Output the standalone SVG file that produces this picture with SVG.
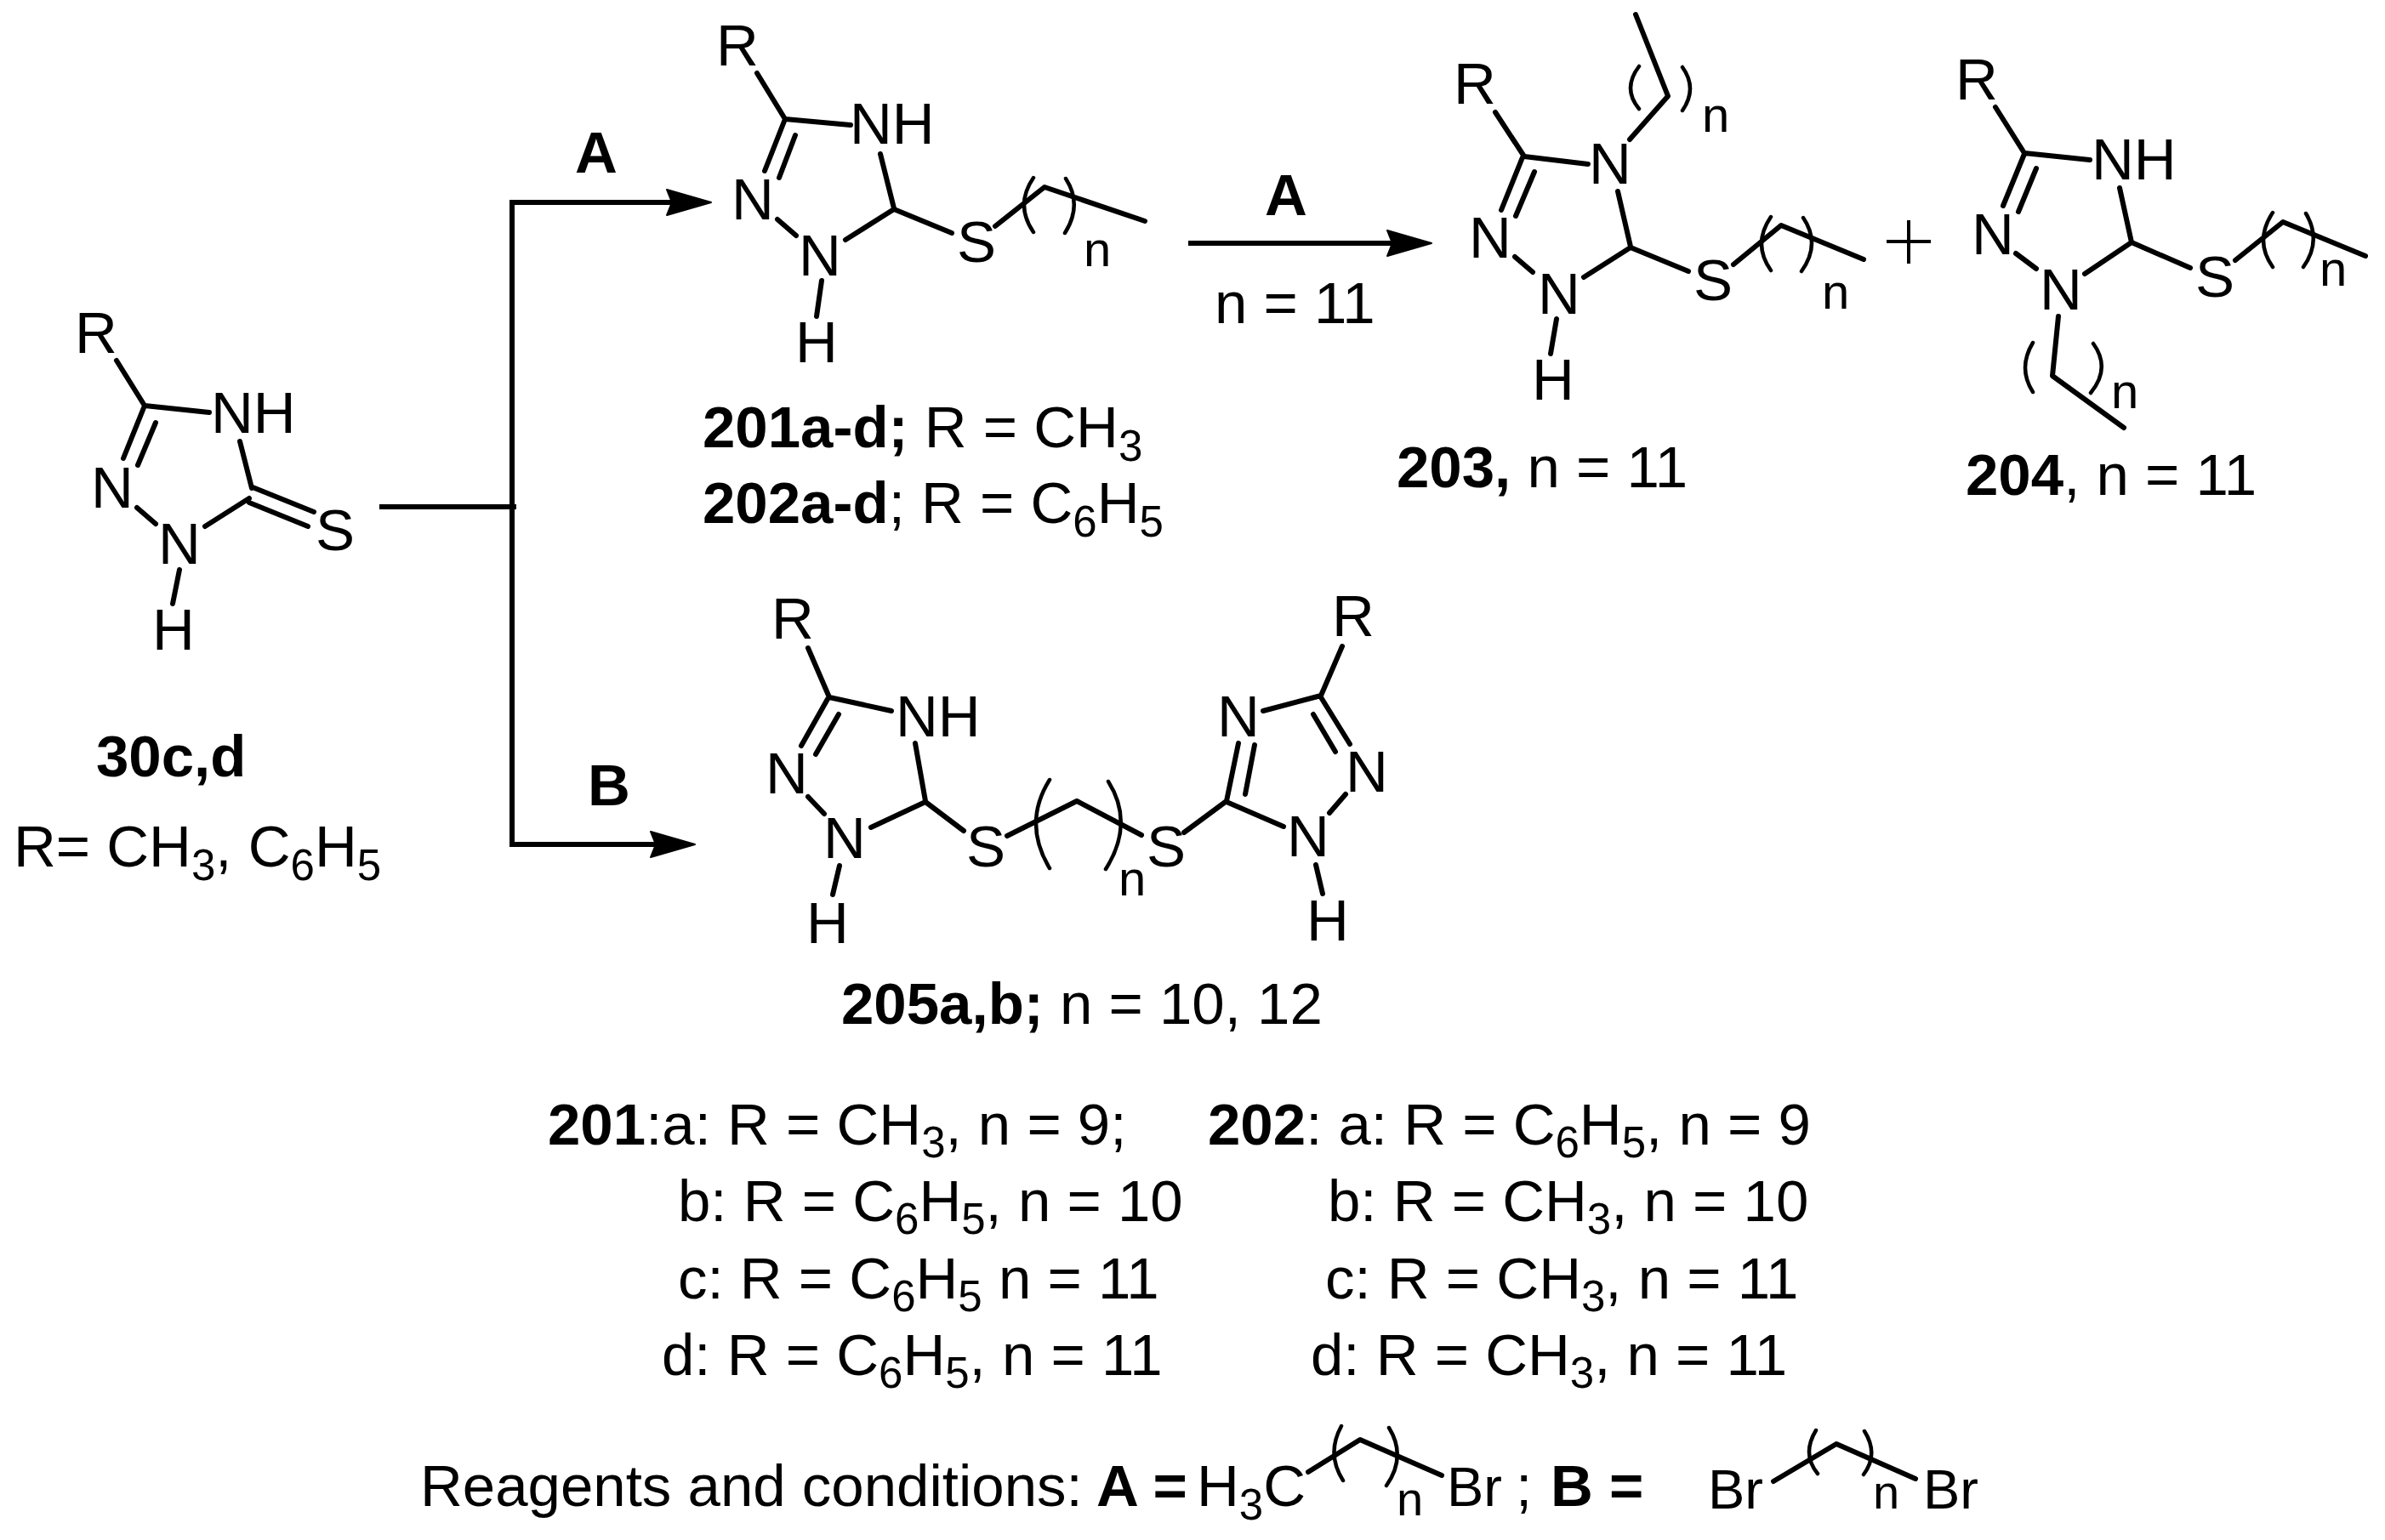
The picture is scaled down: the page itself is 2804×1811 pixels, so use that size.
<svg xmlns="http://www.w3.org/2000/svg" width="2804" height="1811" viewBox="0 0 2804 1811">
<style>
text{font-family:"Liberation Sans",Arial,sans-serif;font-size:69px;fill:#000}
.b{font-weight:700}
.s{font-size:51px}
.n{font-size:58px}
.m{font-size:56px}
.r{font-size:65px}
.bond{fill:none;stroke:#000;stroke-width:6;stroke-linecap:round;stroke-linejoin:round}
.par{fill:none;stroke:#000;stroke-width:4.5;stroke-linecap:round}
.conn{fill:none;stroke:#000;stroke-width:6}
</style>
<defs>
<marker id="head" markerUnits="userSpaceOnUse" viewBox="-2 -2 56 34" markerWidth="56" markerHeight="34" refX="6" refY="15" orient="auto">
<polygon points="0,0 52,15 0,30 6,15" fill="#000" stroke="#000" stroke-width="2" stroke-linejoin="round"/>
</marker>
</defs>
<rect width="2804" height="1811" fill="#fff"/>

<g id="connectors">
<path class="conn" d="M446 596H607"/>
<path class="conn" d="M602 235V993H771" marker-end="url(#head)"/>
<path class="conn" d="M599 238H790" marker-end="url(#head)"/>
<path class="conn" d="M1397 286H1637" marker-end="url(#head)"/>
</g>

<g id="arrow-labels">
<text class="b" x="676" y="203">A</text>
<text class="b" x="691" y="947">B</text>
<text class="b" x="1487" y="253">A</text>
<text x="1428" y="380">n = 11</text>
</g>

<g id="compound-30">
<path class="bond" d="M137 424L170 477L246 485M170 477L145 539M183 497L162 547M282 519L296 574M161 597L183 616M241 619L293 586M297 573L369 602M293 591L362 619M211 670L203 710"/>
<text x="88" y="415">R</text>
<text x="248" y="509">NH</text>
<text x="107" y="597">N</text>
<text x="186" y="663">N</text>
<text x="371" y="647">S</text>
<text x="179" y="764">H</text>
<text class="b" x="113" y="913">30c,d</text>
<text x="16" y="1019">R= CH<tspan class="s" dy="16">3</tspan><tspan dy="-16">, C</tspan><tspan class="s" dy="16">6</tspan><tspan dy="-16">H</tspan><tspan class="s" dy="16">5</tspan></text>
</g>

<g id="compound-201-202">
<path class="bond" d="M890 86L923 140L1000 147M923 140L899 201M935 159L916 209M1035 181L1051 245M914 258L936 277M994 282L1051 246L1119 274M1170 266L1228 220L1346 260"/>
<path class="par" d="M1215 209Q1193 241 1215 273M1253 210Q1273 241 1252 274"/>
<text x="842" y="77">R</text>
<text x="999" y="169">NH</text>
<text x="860" y="258">N</text>
<text x="939" y="324">N</text>
<text x="1125" y="308">S</text>
<text class="n" x="1274" y="313">n</text>
<path class="bond" d="M966 330L960 372"/>
<text x="935" y="426">H</text>
<text x="826" y="526"><tspan class="b">201a-d;</tspan> R = CH<tspan class="s" dy="16">3</tspan></text>
<text x="826" y="615"><tspan class="b">202a-d</tspan>; R = C<tspan class="s" dy="16">6</tspan><tspan dy="-16">H</tspan><tspan class="s" dy="16">5</tspan></text>
</g>

<g id="compound-203">
<path class="bond" d="M1758 132L1792 184L1867 193M1790 185L1765 247M1804 202L1782 254M1916 164L1961 113L1923 17M1902 225L1917 290M1781 302L1802 320M1862 326L1917 291L1985 319M2038 311L2094 265L2191 305M1830 375L1823 416"/>
<path class="par" d="M1927 78Q1907 104 1927 128M1978 79Q1996 104 1978 130M2082 255Q2060 287 2082 318M2120 256Q2141 287 2118 319"/>
<text x="1709" y="122">R</text>
<text x="1868" y="216">N</text>
<text class="n" x="2001" y="155">n</text>
<text x="1727" y="303">N</text>
<text x="1808" y="369">N</text>
<text x="1991" y="353">S</text>
<text class="n" x="2142" y="363">n</text>
<text x="1801" y="470">H</text>
<text x="1642" y="573"><tspan class="b">203,</tspan> n = 11</text>
</g>

<g id="plus">
<path class="bond" style="stroke-width:4;stroke-linecap:butt" d="M2218 284H2270M2244 259V310"/>
</g>

<g id="compound-204">
<path class="bond" d="M2346 126L2380 180L2457 188M2380 181L2355 242M2394 198L2373 249M2492 221L2506 285M2370 298L2394 316M2451 322L2506 285L2575 315M2628 306L2684 261L2781 301M2420 372L2413 442L2497 503"/>
<path class="par" d="M2672 250Q2650 283 2672 314M2711 251Q2730 283 2708 314M2390 403Q2372 433 2390 461M2461 404Q2482 433 2458 462"/>
<text x="2299" y="117">R</text>
<text x="2459" y="211">NH</text>
<text x="2318" y="299">N</text>
<text x="2398" y="364">N</text>
<text x="2581" y="349">S</text>
<text class="n" x="2727" y="336">n</text>
<text class="n" x="2482" y="480">n</text>
<text x="2311" y="582"><tspan class="b">204</tspan>, n = 11</text>
</g>

<g id="compound-205">
<path class="bond" d="M950 762L975 820L1048 836M973 822L942 877M986 840L959 887M1076 874L1088 942M950 937L969 957M1024 973L1088 943L1133 977M987 1018L979 1052M1184 983L1266 942L1342 982M1392 979L1442 942L1456 874M1464 934L1475 876M1485 836L1553 818L1578 760M1553 820L1587 875M1544 840L1570 884M1582 934L1563 956M1442 943L1509 972M1547 1017L1555 1051"/>
<path class="par" d="M1234 917Q1202 968 1234 1021M1303 919Q1334 968 1300 1022"/>
<text x="907" y="751">R</text>
<text x="1053" y="866">NH</text>
<text x="900" y="933">N</text>
<text x="968" y="1009">N</text>
<text x="1136" y="1019">S</text>
<text x="948" y="1109">H</text>
<text class="n" x="1315" y="1053">n</text>
<text x="1348" y="1019">S</text>
<text x="1431" y="866">N</text>
<text x="1566" y="748">R</text>
<text x="1582" y="931">N</text>
<text x="1513" y="1007">N</text>
<text x="1536" y="1106">H</text>
<text x="989" y="1204"><tspan class="b">205a,b;</tspan> n = 10, 12</text>
</g>

<g id="table-201">
<text x="644" y="1346"><tspan class="b">201</tspan>:a: R = CH<tspan class="s" dy="15">3</tspan><tspan dy="-15">, n = 9;</tspan></text>
<text x="797" y="1436">b: R = C<tspan class="s" dy="15">6</tspan><tspan dy="-15">H</tspan><tspan class="s" dy="15">5</tspan><tspan dy="-15">, n = 10</tspan></text>
<text x="797" y="1527">c: R = C<tspan class="s" dy="15">6</tspan><tspan dy="-15">H</tspan><tspan class="s" dy="15">5</tspan><tspan dy="-15"> n = 11</tspan></text>
<text x="778" y="1617">d: R = C<tspan class="s" dy="15">6</tspan><tspan dy="-15">H</tspan><tspan class="s" dy="15">5</tspan><tspan dy="-15">, n = 11</tspan></text>
</g>

<g id="table-202">
<text x="1420" y="1346"><tspan class="b">202</tspan>: a: R = C<tspan class="s" dy="15">6</tspan><tspan dy="-15">H</tspan><tspan class="s" dy="15">5</tspan><tspan dy="-15">, n = 9</tspan></text>
<text x="1561" y="1436">b: R = CH<tspan class="s" dy="15">3</tspan><tspan dy="-15">, n = 10</tspan></text>
<text x="1558" y="1527">c: R = CH<tspan class="s" dy="15">3</tspan><tspan dy="-15">, n = 11</tspan></text>
<text x="1541" y="1617">d: R = CH<tspan class="s" dy="15">3</tspan><tspan dy="-15">, n = 11</tspan></text>
</g>

<g id="reagents">
<text x="494" y="1771">Reagents and conditions: <tspan class="b" x="1289">A =</tspan></text>
<text x="1407" y="1771">H<tspan class="s" dy="16">3</tspan><tspan dy="-16">C</tspan></text>
<path class="bond" d="M1538 1731L1599 1693L1695 1735M2085 1742L2159 1698L2252 1739"/>
<path class="par" d="M1577 1677Q1559 1710 1579 1741M1633 1679Q1654 1713 1630 1747M2135 1682Q2118 1710 2137 1733M2192 1683Q2209 1710 2191 1734"/>
<text class="m" x="1642" y="1782">n</text>
<text class="r" x="1701" y="1771">Br</text>
<text x="1782" y="1771">;</text>
<text class="b" x="1823" y="1771">B =</text>
<text class="r" x="2008" y="1774">Br</text>
<text class="m" x="2202" y="1774">n</text>
<text class="r" x="2261" y="1774">Br</text>
</g>
</svg>
